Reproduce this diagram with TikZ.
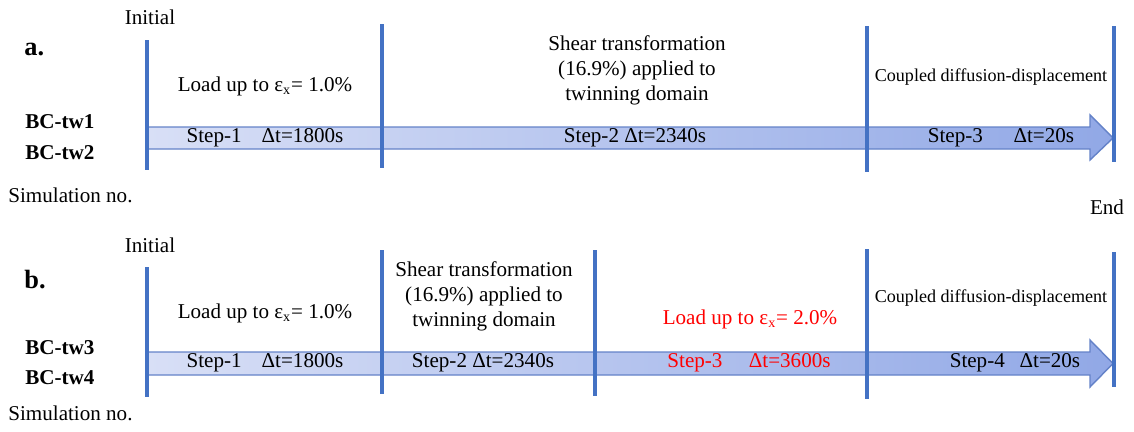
\documentclass[tikz,border=0pt]{standalone}
\usepackage{fontspec}
\setmainfont{Liberation Serif}
\definecolor{markblue}{RGB}{68,114,196}
\definecolor{bandedge}{RGB}{100,130,200}
\definecolor{bandleft}{RGB}{216,223,246}
\definecolor{bandright}{RGB}{145,168,230}
\definecolor{loadred}{RGB}{255,0,0}
\tikzset{
  marker/.style={line width=2.2pt, draw=markblue},
  band/.style={draw=bandedge, line width=0.8pt, left color=bandleft, right color=bandright},
  txt/.style={font=\fontsize{12}{14.2}\selectfont, inner sep=0pt},
  smalltxt/.style={font=\fontsize{10.3}{12}\selectfont, inner sep=0pt},
  redtxt/.style={txt, text=loadred},
  simno/.style={font=\bfseries\fontsize{12}{14.2}\selectfont, inner sep=0pt, anchor=west},
  panel/.style={font=\bfseries\fontsize{15}{18}\selectfont, inner sep=0pt, anchor=west},
}

\begin{document}
\begin{tikzpicture}
\useasboundingbox (0,0) rectangle (22.68,8.62);
\draw[band] (2.940,6.080) -- (21.800,6.080) -- (21.800,6.320) -- (22.260,5.860) -- (21.800,5.420) -- (21.800,5.640) -- (2.940,5.640) -- cycle;
\draw[band] (2.940,1.580) -- (21.800,1.580) -- (21.800,1.820) -- (22.260,1.350) -- (21.800,0.880) -- (21.800,1.120) -- (2.940,1.120) -- cycle;
\draw[marker] (2.940,7.820) -- (2.940,5.220);
\draw[marker] (7.640,8.140) -- (7.640,5.260);
\draw[marker] (17.340,8.100) -- (17.340,5.180);
\draw[marker] (22.280,8.100) -- (22.280,5.380);
\draw[marker] (2.940,3.280) -- (2.940,0.680);
\draw[marker] (7.640,3.620) -- (7.640,0.740);
\draw[marker] (11.900,3.620) -- (11.900,0.700);
\draw[marker] (17.340,3.640) -- (17.340,0.640);
\draw[marker] (22.280,3.580) -- (22.280,0.880);
\node[panel] (pa) at (0.480,7.620) {a.};
\node[txt] (inita) at (3.000,8.280) {Initial};
\node[txt] (loada) at (5.300,6.900) {Load up to ε\textsubscript{x}= 1.0\%};
\node[txt, align=center] (sheara) at (12.740,7.220) {Shear transformation\\(16.9\%) applied to\\twinning domain};
\node[smalltxt] (coupa) at (19.820,7.080) {Coupled diffusion-displacement};
\node[txt] (stepaa) at (5.300,5.860) {Step-1\hspace{0.7em} Δt=1800s};
\node[txt] (stepab) at (12.700,5.860) {Step-2 Δt=2340s};
\node[txt] (stepac) at (20.020,5.860) {Step-3\hspace{1.2em} Δt=20s};
\node[simno] (bcone) at (0.500,6.180) {BC-tw1};
\node[simno] (bctwo) at (0.500,5.560) {BC-tw2};
\node[txt, anchor=west] (sima) at (0.160,4.720) {Simulation no.};
\node[txt] (enda) at (22.140,4.480) {End};
\node[panel] (pb) at (0.480,3.020) {b.};
\node[txt] (initb) at (3.000,3.720) {Initial};
\node[txt] (loadb) at (5.300,2.360) {Load up to ε\textsubscript{x}= 1.0\%};
\node[txt, align=center] (shearb) at (9.680,2.700) {Shear transformation\\(16.9\%) applied to\\twinning domain};
\node[redtxt] (loadbb) at (15.000,2.240) {Load up to ε\textsubscript{x}= 2.0\%};
\node[smalltxt] (coupb) at (19.820,2.660) {Coupled diffusion-displacement};
\node[txt] (stepba) at (5.300,1.360) {Step-1\hspace{0.7em} Δt=1800s};
\node[txt] (stepbb) at (9.660,1.360) {Step-2 Δt=2340s};
\node[redtxt] (stepbc) at (14.980,1.360) {Step-3\hspace{1.0em} Δt=3600s};
\node[txt] (stepbd) at (20.300,1.360) {Step-4\hspace{0.45em} Δt=20s};
\node[simno] (bcthree) at (0.500,1.660) {BC-tw3};
\node[simno] (bcfour) at (0.500,1.060) {BC-tw4};
\node[txt, anchor=west] (simb) at (0.160,0.360) {Simulation no.};
\end{tikzpicture}
\end{document}
